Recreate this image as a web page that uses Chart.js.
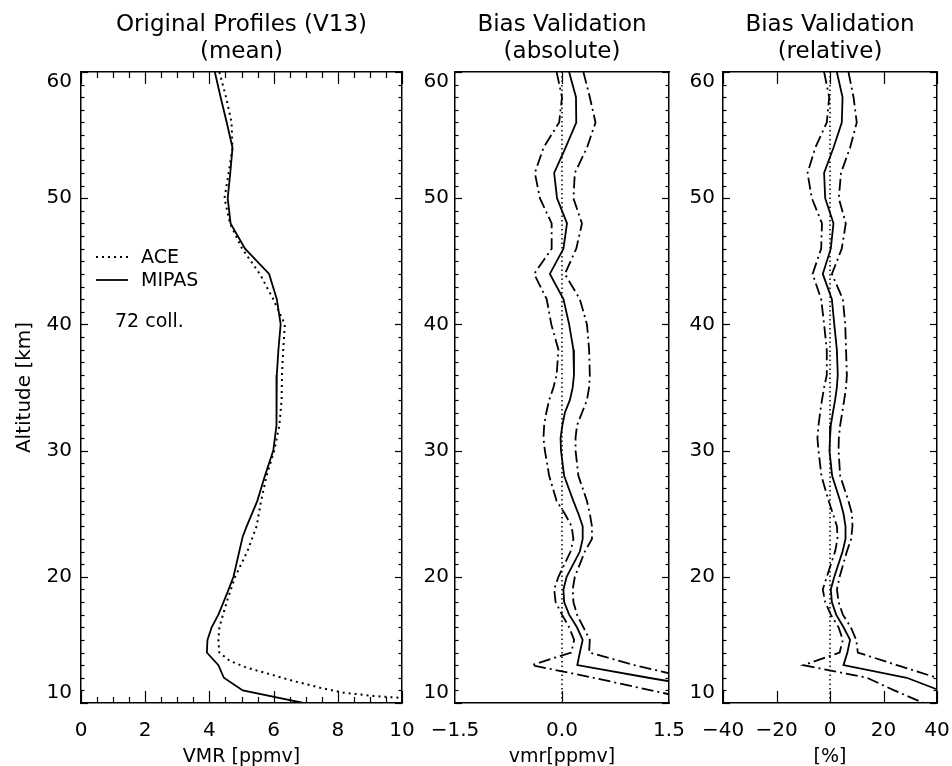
<!DOCTYPE html>
<html><head><meta charset="utf-8">
<script src="https://cdn.jsdelivr.net/npm/chart.js@4.4.0/dist/chart.umd.min.js"></script>
<style>
html,body{margin:0;padding:0;background:#fff;width:952px;height:766px;overflow:hidden;}
canvas{position:absolute;top:0;}
</style></head><body>
<canvas id="c1" width="440" height="767" style="left:0px"></canvas>
<canvas id="c2" width="298" height="767" style="left:405px"></canvas>
<canvas id="c3" width="288" height="767" style="left:680px"></canvas>
<script>
// ---------------- data ----------------
const aceAlt = [60, 58, 56, 54, 52, 50, 48, 46, 44, 42, 40, 38, 36, 34, 32, 30, 28, 26, 24, 22, 20, 18, 16, 15, 14, 13.33, 12.8, 12.28, 11.75, 11.21, 10.82, 10.56, 10.42, 10.3];
const aceVmr = [4.31, 4.52, 4.69, 4.72, 4.60, 4.47, 4.64, 5.02, 5.57, 5.99, 6.35, 6.30, 6.26, 6.25, 6.18, 6.02, 5.78, 5.61, 5.47, 5.18, 4.80, 4.54, 4.31, 4.28, 4.31, 4.64, 5.16, 5.89, 6.61, 7.45, 8.17, 9.11, 9.89, 10.6];
const mipasAlt = [60, 58, 56, 54, 52, 50, 48, 46, 44, 42, 40, 38, 36, 34, 32, 30, 28, 26, 24, 23.2, 22, 20, 19, 18, 17, 16, 15, 14, 13, 12, 11, 10];
const mipasVmr = [4.17, 4.35, 4.54, 4.72, 4.65, 4.57, 4.66, 5.11, 5.86, 6.10, 6.22, 6.15, 6.10, 6.10, 6.08, 5.99, 5.73, 5.49, 5.16, 5.04, 4.93, 4.75, 4.60, 4.44, 4.28, 4.07, 3.94, 3.92, 4.28, 4.45, 5.04, 6.93];

const biasAlt  = [60, 58, 56, 54, 52, 50, 48, 46, 44, 42, 40, 38, 36, 35, 34, 33, 32, 31, 30, 28, 26, 25, 24, 23, 22, 20, 19, 18, 17, 16, 15, 14, 13, 12, 11, 10];
const absLower = [-0.075, 0.0, -0.04, -0.26, -0.38, -0.31, -0.145, -0.145, -0.39, -0.215, -0.15, -0.05, -0.075, -0.12, -0.18, -0.22, -0.25, -0.26, -0.24, -0.18, -0.075, 0.04, 0.135, 0.16, 0.12, -0.05, -0.11, -0.09, 0.0, 0.10, 0.17, 0.13, -0.425, 0.44, 1.25, 2.06];
const absMean  = [0.10, 0.196, 0.20, 0.05, -0.11, -0.07, 0.07, 0.02, -0.17, 0.02, 0.10, 0.16, 0.168, 0.15, 0.11, 0.04, 0.005, -0.02, -0.014, 0.03, 0.16, 0.23, 0.29, 0.29, 0.25, 0.065, 0.02, 0.03, 0.10, 0.21, 0.29, 0.25, 0.215, 1.21, 2.25, 3.3];
const absUpper = [0.30, 0.39, 0.47, 0.35, 0.18, 0.16, 0.28, 0.20, 0.04, 0.25, 0.35, 0.38, 0.39, 0.38, 0.35, 0.28, 0.21, 0.19, 0.19, 0.23, 0.35, 0.39, 0.42, 0.42, 0.32, 0.18, 0.15, 0.16, 0.21, 0.30, 0.39, 0.38, 1.02, 1.77, 2.5, 3.2];
const relLower = [-2.2, -0.3, -1.2, -5.5, -8.4, -6.8, -3.0, -3.3, -6.5, -3.3, -2.2, -1.2, -1.2, -2.2, -3.0, -3.7, -4.3, -4.7, -4.3, -3.2, -0.5, 1.1, 2.6, 2.8, 1.9, -1.2, -2.7, -1.8, 0.3, 3.2, 4.8, 3.6, -9.9, 13.8, 24, 35];
const relMean  = [2.56, 4.7, 4.4, 1.3, -2.2, -1.8, 1.3, 0.3, -2.7, 0.7, 1.6, 2.56, 2.9, 2.56, 1.9, 1.07, 0.3, 0.0, -0.2, 0.8, 3.8, 5.05, 5.8, 5.8, 4.7, 1.6, 0.3, 0.7, 2.3, 5.05, 7.5, 6.5, 5.05, 28.7, 41, 53];
const relUpper = [6.9, 8.8, 10.0, 7.5, 4.1, 3.3, 5.9, 4.4, 0.7, 4.8, 5.7, 6.0, 6.3, 6.0, 5.3, 4.55, 3.8, 3.3, 3.2, 3.8, 6.9, 8.2, 8.4, 7.9, 6.3, 3.6, 2.6, 3.2, 4.8, 7.8, 9.8, 10.4, 25, 40, 55, 70];
const zeroAlt = [10, 60];
const zeroVal = [0, 0];

const panelTitles = [['Original Profiles (V13)', '(mean)'], ['Bias Validation', '(absolute)'], ['Bias Validation', '(relative)']];
const xTitles = ['VMR [ppmv]', 'vmr[ppmv]', '[%]'];
const yTitle = 'Altitude [km]';
const legendLabels = ['ACE', 'MIPAS'];
const noteText = '72 coll.';
const absTickLabels = {'-1.5': '\u22121.5', '0': '0.0', '1.5': '1.5'};

// ---------------- helpers ----------------
const FONT = "'DejaVu Sans', sans-serif";
const CANVAS_H = 767;
Chart.defaults.font.family = FONT;
Chart.defaults.color = '#000';

function pts(xs, ys) { return xs.map((x, i) => ({x: x, y: ys[i]})); }
function line(xs, ys, style) {
  return Object.assign({data: pts(xs, ys), showLine: true, pointRadius: 0, borderColor: '#000',
    backgroundColor: '#000', fill: false, tension: 0, borderJoinStyle: 'miter'}, style);
}
const SOLID = {borderWidth: 1.8};
const DOTTED = {borderWidth: 2, borderDash: [2, 4]};
const FINEDOT = {borderWidth: 1.5, borderDash: [1.5, 3]};
const DASHDOT = {borderWidth: 1.8, borderDash: [12, 4, 2, 4]};

function isMult(v, m) { const r = v / m; return Math.abs(r - Math.round(r)) < 1e-6; }

const inwardTicks = {
  id: 'inwardTicks',
  afterDatasetsDraw(chart, args, opts) {
    const ctx = chart.ctx, a = chart.chartArea;
    ctx.save(); ctx.strokeStyle = '#000'; ctx.lineWidth = 1.2;
    for (const id of Object.keys(chart.scales)) {
      const s = chart.scales[id];
      const spec = s.isHorizontal() ? opts.x : opts.y;
      s.ticks.forEach(t => {
        if (spec.only && !spec.only.some(v => Math.abs(v - t.value) < 1e-6)) return;
        const len = isMult(t.value, spec.major) ? spec.majorLen : spec.minorLen;
        const p = Math.round(s.getPixelForValue(t.value)) + 0.5;
        ctx.beginPath();
        if (s.isHorizontal()) {
          const y0 = s.position === 'top' ? a.top : a.bottom;
          const dir = s.position === 'top' ? 1 : -1;
          ctx.moveTo(p, y0); ctx.lineTo(p, y0 + dir * len);
        } else {
          const x0 = s.position === 'right' ? a.right : a.left;
          const dir = s.position === 'right' ? -1 : 1;
          ctx.moveTo(x0, p); ctx.lineTo(x0 + dir * len, p);
        }
        ctx.stroke();
      });
    }
    ctx.restore();
  }
};

const legendNote = {
  id: 'legendNote',
  afterDatasetsDraw(chart, args, opts) {
    if (!opts.show) return;
    const ctx = chart.ctx, a = chart.chartArea;
    ctx.save();
    ctx.strokeStyle = '#000';
    const x0 = a.left + 15, x1 = a.left + 47, tx = a.left + 60;
    const rows = [a.top + 185, a.top + 208];
    const styles = [DOTTED, SOLID];
    rows.forEach((y, i) => {
      ctx.lineWidth = styles[i].borderWidth;
      ctx.setLineDash(styles[i].borderDash || []);
      ctx.beginPath(); ctx.moveTo(x0, y); ctx.lineTo(x1, y); ctx.stroke();
    });
    ctx.setLineDash([]);
    ctx.fillStyle = '#000';
    ctx.font = "19px " + FONT;
    ctx.textBaseline = 'middle'; ctx.textAlign = 'left';
    ctx.fillText(legendLabels[0], tx, rows[0] + 1);
    ctx.fillText(legendLabels[1], tx, rows[1] + 1);
    ctx.fillText(noteText, a.left + 34, a.top + 250);
    ctx.restore();
  }
};

function yLabel(v) {
  if (!isMult(v, 10)) return '';
  const r = Math.round(v);
  if (r === 60) return ['', '60'];
  if (r === 10) return ['10', ''];
  return String(r);
}

function makeChart(id, cfg) {
  const tickFont = {family: FONT, size: 20, lineHeight: 1.0};
  const scales = {
    x: {type: 'linear', position: 'bottom', min: cfg.xmin, max: cfg.xmax,
      grid: {display: false, drawTicks: false}, border: {display: true, color: '#000', width: 1.5},
      ticks: {stepSize: cfg.xstep, autoSkip: false, maxRotation: 0, padding: 18, color: '#000', font: tickFont, callback: cfg.xlabel},
      title: {display: true, text: cfg.xtitle, color: '#000', font: {family: FONT, size: 19, lineHeight: 1.0}, padding: {top: 0, bottom: 0}},
      afterFit(s) { s.height = CANVAS_H - 703; }},
    x2: {type: 'linear', axis: 'x', position: 'top', min: cfg.xmin, max: cfg.xmax,
      grid: {display: false, drawTicks: false}, border: {display: true, color: '#000', width: 1.5},
      ticks: {display: false, stepSize: cfg.xstep, autoSkip: false},
      afterFit(s) { s.height = 0; }},
    y: {type: 'linear', position: 'left', min: 10, max: 60,
      grid: {display: false, drawTicks: false}, border: {display: true, color: '#000', width: 1.5},
      ticks: {stepSize: 1, autoSkip: false, padding: cfg.ypad, color: '#000', font: tickFont, callback: yLabel},
      title: {display: !!cfg.ytitle, text: cfg.ytitle || '', color: '#000', font: {family: FONT, size: 20, lineHeight: 1.2}, padding: {top: 13, bottom: 0}},
      afterFit(s) { s.width = cfg.yw; }},
    y2: {type: 'linear', axis: 'y', position: 'right', min: 10, max: 60,
      grid: {display: false, drawTicks: false}, border: {display: true, color: '#000', width: 1.5},
      ticks: {display: false, stepSize: 1, autoSkip: false},
      afterFit(s) { s.width = 0; }}
  };
  return new Chart(document.getElementById(id), {
    type: 'scatter',
    data: {datasets: cfg.datasets},
    options: {
      responsive: false, animation: false, events: [],
      layout: {padding: {top: 0, left: 0, right: cfg.padRight, bottom: 0}},
      scales: scales,
      plugins: {
        legend: {display: false}, tooltip: {enabled: false},
        title: {display: true, text: cfg.title, fullSize: false, color: '#000',
          font: {family: FONT, size: 23, weight: 'normal', lineHeight: 27 / 23}, padding: {top: 11.5, bottom: 6.5}},
        inwardTicks: cfg.tickSpec,
        legendNote: {show: !!cfg.legend}
      }
    },
    plugins: [inwardTicks, legendNote]
  });
}

// ---------------- panels ----------------
makeChart('c1', {
  title: panelTitles[0], xtitle: xTitles[0], ytitle: yTitle,
  xmin: 0, xmax: 10, xstep: 0.5,
  xlabel: v => isMult(v, 2) ? String(Math.round(v)) : '',
  yw: 81, ypad: 9, padRight: 38, legend: true,
  tickSpec: {x: {major: 2, majorLen: 12, minorLen: 6}, y: {major: 10, majorLen: 7, minorLen: 3.5}},
  datasets: [line(aceVmr, aceAlt, DOTTED), line(mipasVmr, mipasAlt, SOLID)]
});

makeChart('c2', {
  title: panelTitles[1], xtitle: xTitles[1],
  xmin: -1.5, xmax: 1.5, xstep: 1.5,
  xlabel: v => { const k = String(Math.round(v * 10) / 10); return absTickLabels[k] !== undefined ? absTickLabels[k] : k; },
  yw: 50, ypad: 6, padRight: 34,
  tickSpec: {x: {major: 1.5, majorLen: 12, minorLen: 12, only: [0]}, y: {major: 10, majorLen: 7, minorLen: 3.5}},
  datasets: [line(zeroVal, zeroAlt, FINEDOT), line(absLower, biasAlt, DASHDOT), line(absMean, biasAlt, SOLID), line(absUpper, biasAlt, DASHDOT)]
});

makeChart('c3', {
  title: panelTitles[2], xtitle: xTitles[2],
  xmin: -40, xmax: 40, xstep: 20,
  xlabel: v => String(Math.round(v)).replace('-', '\u2212'),
  yw: 43, ypad: 8, padRight: 31,
  tickSpec: {x: {major: 20, majorLen: 12, minorLen: 12}, y: {major: 10, majorLen: 7, minorLen: 3.5}},
  datasets: [line(zeroVal, zeroAlt, FINEDOT), line(relLower, biasAlt, DASHDOT), line(relMean, biasAlt, SOLID), line(relUpper, biasAlt, DASHDOT)]
});
</script>
</body></html>
